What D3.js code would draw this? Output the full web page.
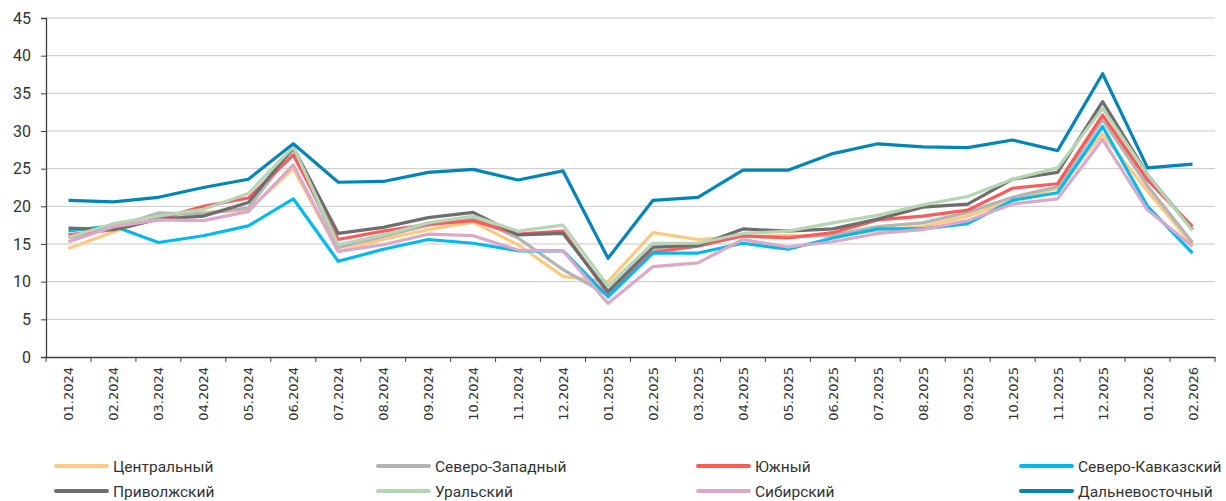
<!DOCTYPE html>
<html>
<head>
<meta charset="utf-8">
<script src="https://cdn.jsdelivr.net/npm/d3@7"></script>
<style>
  body { margin: 0; background: #fff; }
  svg { display: block; }
</style>
</head>
<body>
<svg id="chart" width="1226" height="501"></svg>
<script>
// months on the x axis
let months = ['01.2024','02.2024','03.2024','04.2024','05.2024','06.2024','07.2024','08.2024','09.2024','10.2024','11.2024','12.2024',
    '01.2025','02.2025','03.2025','04.2025','05.2025','06.2025','07.2025','08.2025','09.2025','10.2025','11.2025','12.2025',
    '01.2026','02.2026'];
let yTicks = [0, 5, 10, 15, 20, 25, 30, 35, 40, 45];

let names = ['Центральный', 'Северо-Западный', 'Южный', 'Северо-Кавказский',
    'Приволжский', 'Уральский', 'Сибирский', 'Дальневосточный'];

let central   = [14.4, 16.6, 18.5, 19.2, 19.5, 25.0, 14.0, 15.6, 16.9, 17.9, 14.9, 10.7, 10.0, 16.5, 15.6, 16.0, 16.1, 16.0, 16.8, 17.3, 18.7, 20.8, 22.4, 29.6, 22.0, 14.9];
let northwest = [15.8, 17.2, 19.1, 19.0, 19.8, 27.5, 14.5, 16.0, 17.5, 18.5, 15.8, 11.6, 8.2, 14.3, 15.0, 16.0, 15.9, 16.2, 17.3, 17.8, 19.2, 21.2, 22.6, 31.5, 22.7, 15.2];
let south     = [16.2, 16.9, 18.3, 20.0, 21.1, 26.8, 15.6, 16.7, 17.6, 18.1, 16.3, 16.7, 8.4, 13.9, 14.7, 16.1, 15.8, 16.5, 18.2, 18.7, 19.5, 22.4, 23.0, 32.1, 23.5, 17.3];
let caucasus  = [16.75, 17.4, 15.2, 16.1, 17.4, 21.0, 12.7, 14.3, 15.6, 15.1, 14.1, 14.1, 8.0, 13.8, 13.8, 15.1, 14.3, 15.8, 17.0, 17.0, 17.7, 20.8, 21.8, 30.6, 20.0, 13.8];
let volga     = [17.1, 16.9, 18.3, 18.7, 20.5, 27.8, 16.4, 17.2, 18.5, 19.2, 16.2, 16.4, 8.7, 14.6, 14.8, 17.0, 16.7, 17.0, 18.3, 19.9, 20.3, 23.6, 24.5, 33.9, 24.2, 16.9];
let ural      = [15.9, 17.7, 18.7, 19.6, 21.7, 27.9, 14.9, 16.2, 17.8, 18.7, 16.7, 17.5, 9.4, 15.1, 15.1, 16.4, 16.7, 17.8, 18.8, 20.2, 21.3, 23.6, 25.1, 33.0, 24.2, 16.8];
let siberia   = [15.3, 17.3, 18.2, 18.1, 19.3, 25.5, 14.0, 14.9, 16.3, 16.1, 14.2, 14.1, 7.1, 12.0, 12.5, 15.6, 14.6, 15.3, 16.4, 16.9, 18.1, 20.3, 21.0, 28.9, 19.5, 14.7];
let fareast   = [20.8, 20.6, 21.2, 22.5, 23.6, 28.3, 23.2, 23.3, 24.5, 24.9, 23.5, 24.7, 13.1, 20.8, 21.2, 24.8, 24.8, 27.0, 28.3, 27.9, 27.8, 28.8, 27.4, 37.6, 25.1, 25.6];

let seriesData = [central, northwest, south, caucasus, volga, ural, siberia, fareast];
let colors = ['#ffc982', '#b4b4b4', '#ff5b5b', '#00b9ee', '#6e6e6e', '#b5d5b4', '#dca8c8', '#0085b8'];

let svg = d3.select('#chart');
let plotLeft = 46, plotRight = 1215, plotTop = 18, plotBottom = 357;

let xscale = d3.scaleBand().domain(months).range([plotLeft, plotRight]);
let yscale = d3.scaleLinear().domain([0, 45]).range([plotBottom, plotTop]);

// gridlines
svg.append('g')
    .selectAll('line')
    .data(yTicks.filter(t => t > 0))
    .join('line')
    .attr('x1', plotLeft).attr('x2', plotRight)
    .attr('y1', d => yscale(d)).attr('y2', d => yscale(d))
    .attr('stroke', '#c8c8c8')
    .attr('stroke-width', 1);

// y axis
let yaxis = d3.axisLeft(yscale).tickValues(yTicks).tickSize(5).tickPadding(10);
let yg = svg.append('g').attr('transform', 'translate(' + plotLeft + ',0)').call(yaxis);
yg.select('.domain').attr('stroke', '#404040').attr('stroke-width', 1.3);
yg.selectAll('.tick line').attr('stroke', '#404040');
yg.selectAll('text').attr('font-family', 'Roboto, sans-serif').attr('font-size', 16).attr('fill', '#333');

// x axis: ticks between categories
let xaxis = d3.axisBottom(xscale).tickSize(0).tickFormat('');
let xg = svg.append('g').attr('transform', 'translate(0,' + plotBottom + ')').call(xaxis);
xg.select('.domain').attr('stroke', '#404040').attr('stroke-width', 1.3);
xg.selectAll('.tick').remove();
xg.selectAll('.sep')
    .data(months.concat(['end']))
    .join('line')
    .attr('x1', (d, i) => plotLeft + i * xscale.step())
    .attr('x2', (d, i) => plotLeft + i * xscale.step())
    .attr('y1', 0).attr('y2', 5)
    .attr('stroke', '#404040');
xg.selectAll('.lbl')
    .data(months)
    .join('text')
    .attr('transform', d => 'translate(' + (xscale(d) + xscale.bandwidth() / 2 + 5) + ',10) rotate(-90)')
    .attr('text-anchor', 'end')
    .attr('font-family', 'DejaVu Sans, sans-serif')
    .attr('font-size', 13)
    .attr('fill', '#333')
    .text(d => d);

// lines
let line = d3.line()
    .x((d, i) => xscale(months[i]) + xscale.bandwidth() / 2)
    .y(d => yscale(d));

seriesData.forEach((list, index) => {
    svg.append('path')
        .datum(list)
        .attr('fill', 'none')
        .attr('stroke', colors[index])
        .attr('stroke-width', 3.2)
        .attr('stroke-linejoin', 'round')
        .attr('d', line);
});

// legend
let legendCols = [56, 378, 698, 1021];
let legendRows = [466, 491];
names.forEach((name, i) => {
    let lx = legendCols[i % 4];
    let ly = legendRows[Math.floor(i / 4)];
    svg.append('line')
        .attr('x1', lx).attr('x2', lx + 51)
        .attr('y1', ly).attr('y2', ly)
        .attr('stroke', colors[i])
        .attr('stroke-width', 4)
        .attr('stroke-linecap', 'round');
    svg.append('text')
        .attr('x', lx + 57).attr('y', ly + 5.5)
        .attr('font-family', 'Roboto, sans-serif')
        .attr('font-size', 15.5)
        .attr('fill', '#333')
        .text(name);
});
</script>
</body>
</html>
